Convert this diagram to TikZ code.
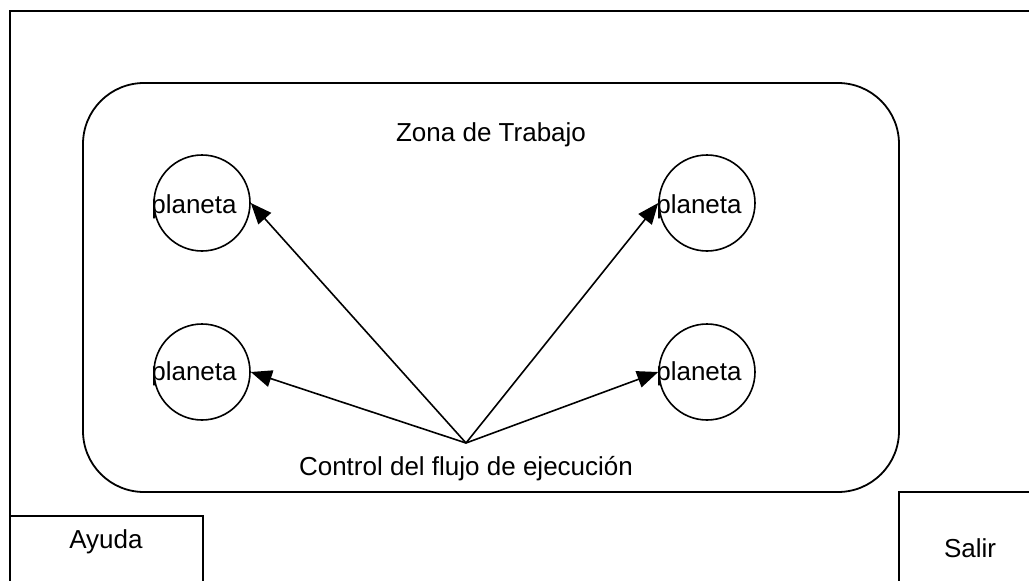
\documentclass[tikz,border=0pt]{standalone}
\usepackage{fontspec}
\setmainfont{Liberation Sans}
\usetikzlibrary{arrows.meta}
\begin{document}
\begin{tikzpicture}[x=1pt,y=-1pt,
  txt/.style={font=\fontsize{26}{30}\selectfont, inner sep=0pt},
  planet/.style={circle, draw, line width=1.6pt, minimum size=96pt, inner sep=0pt},
  conn/.style={line width=1.6pt, -{Triangle[length=21pt,width=17pt]}},
  frame/.style={draw, line width=1.8pt}]
\useasboundingbox (0,0) rectangle (1029,581);
\clip (0,0) rectangle (1029,581);
\fill[white] (0,0) rectangle (1029,581);
% outer window
\draw[frame] (10,11) rectangle (1040,600);
% work zone
\draw[frame, rounded corners=61pt] (83,83) rectangle (899,492);
\node[txt] (zona) at (491,135) {Zona de Trabajo};
% planets
\node[planet] (p1) at (202,203) {};
\node[planet] (p2) at (707,203) {};
\node[planet] (p3) at (202,372) {};
\node[planet] (p4) at (707,372) {};
\node[txt] (t1) at (194,207) {planeta};
\node[txt] (t2) at (699,207) {planeta};
\node[txt] (t3) at (194,374) {planeta};
\node[txt] (t4) at (699,374) {planeta};
% control
\coordinate (o) at (466,443);
\node[txt] (ctrl) at (466,469) {Control del flujo de ejecución};
\draw[conn] (o) -- (p1.east);
\draw[conn] (o) -- (p2.west);
\draw[conn] (o) -- (p3.east);
\draw[conn] (o) -- (p4.west);
% buttons
\draw[frame] (10,516) rectangle (203,600);
\node[txt] (ayuda) at (106,542) {Ayuda};
\draw[frame] (899,492) rectangle (1040,600);
\node[txt] (salir) at (970,548) {Salir};
\end{tikzpicture}
\end{document}
